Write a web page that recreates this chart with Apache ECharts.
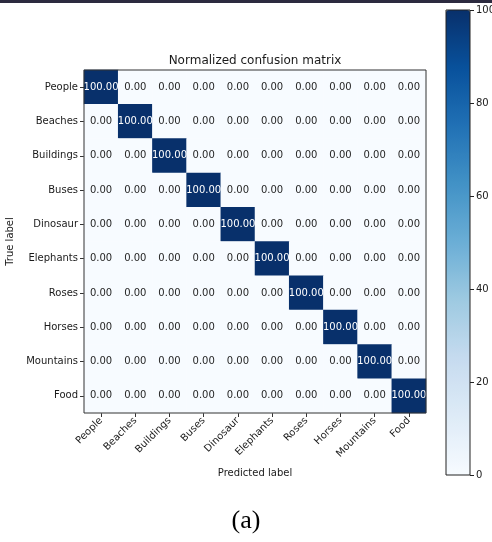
<!DOCTYPE html>
<html>
<head>
<meta charset="utf-8">
<script src="https://cdn.jsdelivr.net/npm/echarts@6/dist/echarts.min.js"></script>
<style>
  html, body { margin: 0; padding: 0; background: #fff; }
  #chart { width: 492px; height: 542px; }
</style>
</head>
<body>
<div id="chart"></div>
<script>
// Class names shared by both axes
const classes = ['People', 'Beaches', 'Buildings', 'Buses', 'Dinosaur',
                 'Elephants', 'Roses', 'Horses', 'Mountains', 'Food'];

// Normalized confusion matrix (percent), rows = true label, cols = predicted label
const matrix = [
  [100, 0, 0, 0, 0, 0, 0, 0, 0, 0],
  [0, 100, 0, 0, 0, 0, 0, 0, 0, 0],
  [0, 0, 100, 0, 0, 0, 0, 0, 0, 0],
  [0, 0, 0, 100, 0, 0, 0, 0, 0, 0],
  [0, 0, 0, 0, 100, 0, 0, 0, 0, 0],
  [0, 0, 0, 0, 0, 100, 0, 0, 0, 0],
  [0, 0, 0, 0, 0, 0, 100, 0, 0, 0],
  [0, 0, 0, 0, 0, 0, 0, 100, 0, 0],
  [0, 0, 0, 0, 0, 0, 0, 0, 100, 0],
  [0, 0, 0, 0, 0, 0, 0, 0, 0, 100]
];

// Colour bar scale
const colorbarMin = 0;
const colorbarMax = 100;
const colorbarStep = 20;

// Matplotlib "Blues" colormap stops
const blues = ['#f7fbff', '#deebf7', '#c6dbef', '#9ecae1', '#6baed6',
               '#4292c6', '#2171b5', '#08519c', '#08306b'];

const FONT = 'DejaVu Sans';
const threshold = colorbarMax / 2;

const cells = [];
matrix.forEach((row, i) => {
  row.forEach((v, j) => {
    cells.push({
      value: [j, i, v],
      label: { color: v > threshold ? '#ffffff' : '#262626' }
    });
  });
});

const chart = echarts.init(document.getElementById('chart'), null, { renderer: 'canvas' });

chart.setOption({
  backgroundColor: '#ffffff',
  animation: false,
  title: {
    text: 'Normalized confusion matrix',
    left: 255,
    top: 55,
    textAlign: 'center',
    padding: 0,
    textStyle: { fontFamily: FONT, fontSize: 12, fontWeight: 'normal', color: '#1a1a1a' }
  },
  graphic: [
    { type: 'rect', shape: { x: 0, y: 0, width: 492, height: 3 }, style: { fill: '#2c2a3f' }, z: 100 },
    {
      type: 'text', x: 246, y: 521,
      style: {
        text: '(a)', font: '26px "Liberation Serif"', fill: '#000',
        textAlign: 'center', textVerticalAlign: 'middle'
      }
    }
  ],
  grid: [
    // matrix area
    {
      left: 84, top: 70, width: 342, height: 343,
      outerBoundsMode: 'none', containLabel: false,
      show: true, borderColor: '#333', borderWidth: 1, backgroundColor: 'transparent', z: 5
    },
    // colour bar frame
    {
      left: 446, top: 10, width: 24, height: 465,
      outerBoundsMode: 'none', containLabel: false,
      show: true, borderColor: '#222', borderWidth: 1, backgroundColor: 'transparent', z: 10
    },
    // thin strip right of the colour bar holding its ticks and labels
    {
      left: 470, top: 10, width: 4, height: 465,
      outerBoundsMode: 'none', containLabel: false,
      show: false
    }
  ],
  xAxis: [
    {
      type: 'category', gridIndex: 0, data: classes, position: 'bottom',
      axisLine: { show: false },
      axisTick: { show: true, alignWithLabel: true, length: 4, lineStyle: { color: '#333' } },
      axisLabel: { rotate: 45, fontFamily: FONT, fontSize: 10, color: '#1a1a1a', margin: 6 },
      splitLine: { show: false },
      name: 'Predicted label', nameLocation: 'middle', nameGap: 55,
      nameTextStyle: { fontFamily: FONT, fontSize: 10, color: '#1a1a1a' }
    },
    { type: 'value', gridIndex: 1, min: 0, max: 1, show: false },
    { type: 'value', gridIndex: 2, min: 0, max: 1, show: false }
  ],
  yAxis: [
    {
      type: 'category', gridIndex: 0, data: classes, inverse: true,
      axisLine: { show: false },
      axisTick: { show: true, alignWithLabel: true, length: 4, lineStyle: { color: '#333' } },
      axisLabel: { fontFamily: FONT, fontSize: 10, color: '#1a1a1a', margin: 6 },
      splitLine: { show: false },
      name: 'True label', nameLocation: 'middle', nameGap: 62, nameRotate: 90,
      nameTextStyle: { fontFamily: FONT, fontSize: 10, color: '#1a1a1a' }
    },
    { type: 'value', gridIndex: 1, min: colorbarMin, max: colorbarMax, show: false },
    {
      type: 'value', gridIndex: 2, position: 'right',
      min: colorbarMin, max: colorbarMax, interval: colorbarStep,
      axisLine: { show: false },
      axisTick: { show: false },
      axisLabel: { fontFamily: FONT, fontSize: 10, color: '#1a1a1a', margin: 2 },
      splitLine: { show: true, showMinLine: true, showMaxLine: true, lineStyle: { color: '#222', width: 1 } },
      z: 12
    }
  ],
  visualMap: {
    type: 'continuous',
    min: colorbarMin, max: colorbarMax,
    seriesIndex: 0,
    calculable: false,
    orient: 'vertical',
    left: 446, top: 10,
    itemWidth: 24, itemHeight: 465,
    padding: 0,
    text: null,
    showLabel: false,
    inRange: { color: blues },
    z: 1
  },
  series: [
    {
      type: 'heatmap',
      xAxisIndex: 0, yAxisIndex: 0,
      data: cells,
      label: {
        show: true,
        fontFamily: FONT, fontSize: 10,
        formatter: p => p.value[2].toFixed(2)
      },
      itemStyle: { borderWidth: 0 },
      emphasis: { disabled: true }
    }
  ]
});
</script>
</body>
</html>
